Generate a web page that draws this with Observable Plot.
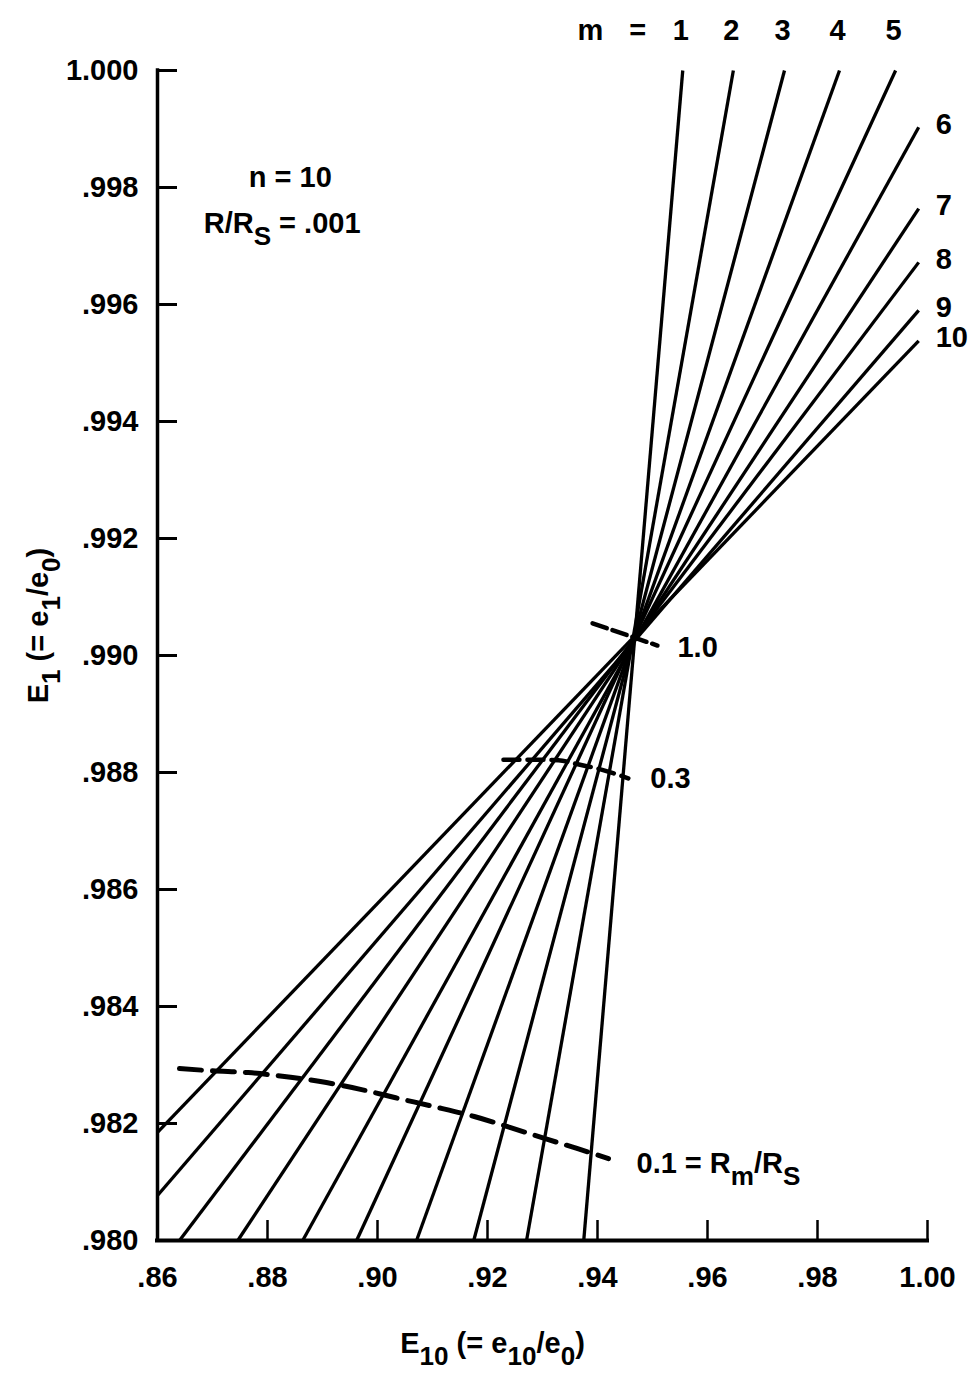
<!DOCTYPE html>
<html>
<head>
<meta charset="utf-8">
<script src="https://cdn.jsdelivr.net/npm/d3@7"></script>
<script src="https://cdn.jsdelivr.net/npm/@observablehq/plot@0.6"></script>
<style>
  html, body { margin: 0; padding: 0; background: #fff; }
  svg { display: block; }
</style>
</head>
<body>
<div id="chart"></div>
<script>
// Number of sections m for each straight line
const mValues = [1, 2, 3, 4, 5, 6, 7, 8, 9, 10];
// Lower end of each line (on the bottom or left axis)
const lowE10 = [0.9375, 0.9271, 0.9175, 0.9071, 0.8962, 0.8864, 0.8746, 0.8640, 0.8600, 0.8600];
const lowE1  = [0.9800, 0.9800, 0.9800, 0.9800, 0.9800, 0.9800, 0.9800, 0.9800, 0.98077, 0.98185];
// Upper end of each line (top edge for m = 1..5, right side for m = 6..10)
const highE10 = [0.9555, 0.9647, 0.9740, 0.9840, 0.9942, 0.9984, 0.9984, 0.9984, 0.9984, 0.9984];
const highE1  = [1.0000, 1.0000, 1.0000, 1.0000, 1.0000, 0.99903, 0.99764, 0.99672, 0.99590, 0.99538];

// Loci of constant Rm/Rs
const ratio10E10 = [0.9391, 0.9509];
const ratio10E1  = [0.99055, 0.99017];
const ratio03E10 = [0.9229, 0.9278, 0.9329, 0.9360, 0.9407, 0.9456];
const ratio03E1  = [0.98822, 0.98822, 0.98821, 0.98815, 0.98805, 0.98790];
const ratio01E10 = [0.8640, 0.8700, 0.8765, 0.8842, 0.8907, 0.8971, 0.9033, 0.9102, 0.9176, 0.9242, 0.9305, 0.9364, 0.9420];
const ratio01E1  = [0.98294, 0.98290, 0.98287, 0.98279, 0.98270, 0.98258, 0.98244, 0.98229, 0.98212, 0.98193, 0.98174, 0.98157, 0.98140];
const ratioLabels = ["1.0", "0.3", "0.1 = R_{m}/R_{S}"];

// Axis ticks
const xTicks = [0.86, 0.88, 0.90, 0.92, 0.94, 0.96, 0.98, 1.00];
const xTickLabels = [".86", ".88", ".90", ".92", ".94", ".96", ".98", "1.00"];
const yTicks = [0.980, 0.982, 0.984, 0.986, 0.988, 0.990, 0.992, 0.994, 0.996, 0.998, 1.000];
const yTickLabels = [".980", ".982", ".984", ".986", ".988", ".990", ".992", ".994", ".996", ".998", "1.000"];

const xTitle = "E_{10} (= e_{10}/e_{0})";
const yTitle = "E_{1} (= e_{1}/e_{0})";

// Parameter block and the "m =" heading over the line ends
const paramNotes = [
  {text: "n = 10", x: 0.8766, y: 0.99817},
  {text: "R/R_{S} = .001", x: 0.8684, y: 0.99738}
];
const headNotes = [
  {text: "m", x: 0.9387, y: 1.00068},
  {text: "=", x: 0.9473, y: 1.00068}
];

// ---- tables built from the arrays above ----
const lines = mValues.map((m, i) => ({m, x1: lowE10[i], y1: lowE1[i], x2: highE10[i], y2: highE1[i]}));
const topLines = lines.filter(d => d.y2 >= 1);
const sideLines = lines.filter(d => d.y2 < 1);
const toPoints = (xs, ys) => xs.map((x, i) => ({x, y: ys[i]}));
const r10 = toPoints(ratio10E10, ratio10E1);
const r03 = toPoints(ratio03E10, ratio03E1);
const r01 = toPoints(ratio01E10, ratio01E1);
const xLabelOf = new Map(xTicks.map((t, i) => [t, xTickLabels[i]]));
const yLabelOf = new Map(yTicks.map((t, i) => [t, yTickLabels[i]]));

const ink = "#000";

const chart = Plot.plot({
  width: 968,
  height: 1393,
  marginLeft: 157,
  marginRight: 41,
  marginTop: 70,
  marginBottom: 153,
  style: {
    fontFamily: "'Liberation Sans', Arial, Helvetica, sans-serif",
    fontSize: "29px",
    fontWeight: "bold",
    color: ink,
    background: "#fff"
  },
  x: {domain: [0.86, 1.0]},
  y: {domain: [0.98, 1.0]},
  marks: [
    // inward tick marks
    Plot.axisX({ticks: xTicks, tickSize: -20, strokeWidth: 2.5, tickFormat: () => "", label: null}),
    Plot.axisY({ticks: yTicks, tickSize: -20, strokeWidth: 3, tickFormat: () => "", label: null}),
    // tick labels
    Plot.axisX({ticks: xTicks, tickSize: 0, tickPadding: 26, tickFormat: d => xLabelOf.get(d), label: null}),
    Plot.axisY({ticks: yTicks, tickSize: 0, tickPadding: 19, tickFormat: d => yLabelOf.get(d), label: null}),
    // axis lines
    Plot.ruleY([0.98], {stroke: ink, strokeWidth: 4, strokeLinecap: "square"}),
    Plot.ruleX([0.86], {stroke: ink, strokeWidth: 3.5, strokeLinecap: "square"}),

    // E1 vs E10 lines for m = 1..10
    Plot.link(lines, {x1: "x1", y1: "y1", x2: "x2", y2: "y2", stroke: ink, strokeWidth: 3.3}),

    // constant Rm/Rs loci
    Plot.line(r10, {x: "x", y: "y", stroke: ink, strokeWidth: 4.5, strokeDasharray: "15,6"}),
    Plot.line(r03, {x: "x", y: "y", stroke: ink, strokeWidth: 4.5, strokeDasharray: "16,8", curve: "monotone-x"}),
    Plot.line(r01, {x: "x", y: "y", stroke: ink, strokeWidth: 5, strokeDasharray: "22,11", curve: "monotone-x"}),

    // locus labels at the curve ends
    Plot.text([r10[r10.length - 1]], {x: "x", y: "y", text: () => ratioLabels[0], textAnchor: "start", dx: 20, dy: 2}),
    Plot.text([r03[r03.length - 1]], {x: "x", y: "y", text: () => ratioLabels[1], textAnchor: "start", dx: 22}),
    Plot.text([r01[r01.length - 1]], {x: "x", y: "y", text: () => ratioLabels[2], textAnchor: "start", dx: 28, dy: 5, letterSpacing: 1}),

    // m labels
    Plot.text(topLines, {x: "x2", y: "y2", text: d => String(d.m), dy: -40, dx: -2}),
    Plot.text(sideLines, {x: "x2", y: "y2", text: d => String(d.m), textAnchor: "start", dx: 17, dy: -3}),
    Plot.text(headNotes, {x: "x", y: "y", text: "text"}),

    // parameters
    Plot.text(paramNotes, {x: "x", y: "y", text: "text", textAnchor: "start"}),

    // axis titles
    Plot.text([xTitle], {frameAnchor: "bottom", textAnchor: "middle", dx: -50, dy: 112, letterSpacing: 3}),
    Plot.text([yTitle], {frameAnchor: "left", textAnchor: "middle", rotate: -90, dx: -119, dy: -30, letterSpacing: 3})
  ]
});

// Render "_{...}" as lowered subscripts
function applySubscripts(svg) {
  const NS = "http://www.w3.org/2000/svg";
  const shift = 12;
  svg.querySelectorAll("text").forEach(t => {
    const s = t.textContent;
    if (!s.includes("_{")) return;
    while (t.firstChild) t.removeChild(t.firstChild);
    let lowered = false;
    for (const part of s.split(/(_\{[^}]*\})/)) {
      if (!part) continue;
      const ts = document.createElementNS(NS, "tspan");
      if (part.startsWith("_{")) {
        ts.textContent = part.slice(2, -1);
        ts.setAttribute("font-size", "0.9em");
        if (!lowered) ts.setAttribute("dy", shift);
        lowered = true;
      } else {
        ts.textContent = part;
        if (lowered) ts.setAttribute("dy", -shift);
        lowered = false;
      }
      t.appendChild(ts);
    }
  });
}
applySubscripts(chart);

document.getElementById("chart").appendChild(chart);
</script>
</body>
</html>
